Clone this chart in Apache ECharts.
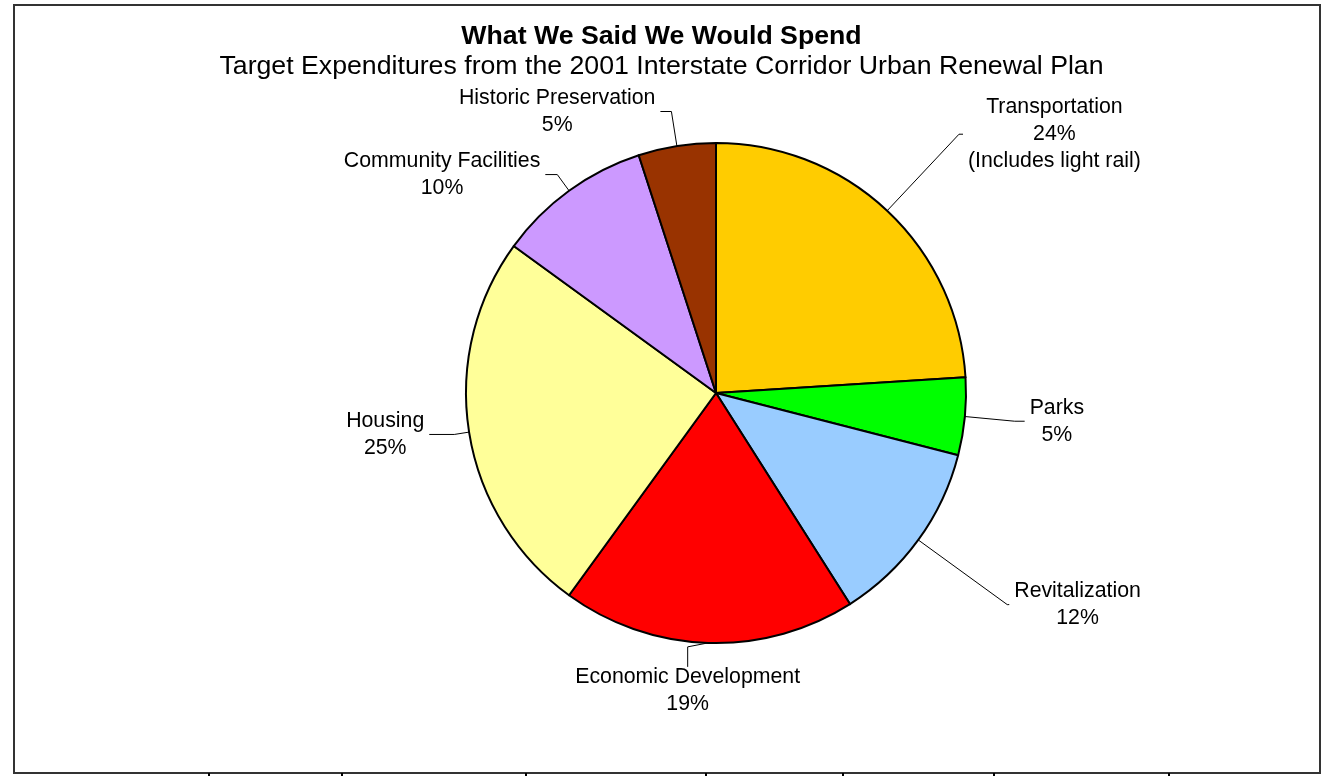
<!DOCTYPE html>
<html>
<head>
<meta charset="utf-8">
<script src="https://cdn.jsdelivr.net/npm/echarts@6/dist/echarts.min.js"></script>
<style>
html,body{margin:0;padding:0;background:#fff;}
#chart{width:1323px;height:776px;}
</style>
</head>
<body>
<div id="chart"></div>
<script>
// ---- data ----
const categories = ['Transportation', 'Parks', 'Revitalization', 'Economic Development', 'Housing', 'Community Facilities', 'Historic Preservation'];
const values = [24, 5, 12, 19, 25, 10, 5];
const notes = ['(Includes light rail)', '', '', '', '', '', ''];
const titleText = 'What We Said We Would Spend';
const subtitleText = 'Target Expenditures from the 2001 Interstate Corridor Urban Renewal Plan';

// ---- styles ----
const colors = ['#FFCC00', '#00FF00', '#99CCFF', '#FF0000', '#FFFF99', '#CC99FF', '#993300'];
const leaderLength = [105, 50, 110, 15, 15, 20, 35];
const leaderLength2 = [4, 10, 2, 20, 25, 12, 11];
const belowIndex = categories.indexOf('Economic Development');
const FONT = "'Liberation Sans', Arial, sans-serif";

const chart = echarts.init(document.getElementById('chart'), null, {renderer: 'canvas'});

const data = categories.map((name, i) => ({
  name: name,
  value: values[i],
  itemStyle: {color: colors[i]},
  labelLine: {length: leaderLength[i], length2: leaderLength2[i]}
}));

const tickXs = [209, 342, 526, 706, 843, 994, 1169];

chart.setOption({
  backgroundColor: '#ffffff',
  animation: false,
  title: {
    text: titleText,
    subtext: subtitleText,
    left: 'center',
    top: 22,
    padding: 0,
    itemGap: 0,
    textStyle: {fontFamily: FONT, fontSize: 26.7, fontWeight: 'bold', color: '#000', lineHeight: 30},
    subtextStyle: {fontFamily: FONT, fontSize: 26.7, fontWeight: 'normal', color: '#000', lineHeight: 30}
  },
  graphic: [
    {type: 'rect', shape: {x: 14, y: 5, width: 1306, height: 768}, style: {fill: 'none', stroke: '#333', lineWidth: 2}, silent: true, z: 0}
  ].concat(tickXs.map(x => ({
    type: 'line', shape: {x1: x, y1: 773, x2: x, y2: 776}, style: {stroke: '#000', lineWidth: 2}, silent: true
  }))),
  series: [{
    type: 'pie',
    center: [716, 393],
    radius: 250,
    startAngle: 90,
    clockwise: true,
    avoidLabelOverlap: false,
    data: data,
    itemStyle: {borderColor: '#000', borderWidth: 2},
    emphasis: {disabled: true},
    label: {
      show: true,
      position: 'outside',
      distanceToLabelLine: 5,
      formatter: function (p) {
        const i = p.dataIndex;
        let s = '{a|' + p.name + '}\n{a|' + values[i] + '%}';
        if (notes[i]) s += '\n{a|' + notes[i] + '}';
        return s;
      },
      rich: {
        a: {align: 'center', fontFamily: FONT, fontSize: 21.3, lineHeight: 27, color: '#000'}
      }
    },
    labelLine: {show: true, smooth: false, lineStyle: {color: '#000', width: 1}},
    labelLayout: function (params) {
      if (params.dataIndex === belowIndex && params.labelLinePoints) {
        const pts = params.labelLinePoints;
        const end = pts[pts.length - 1];
        return {x: end[0], y: end[1] + 6, align: 'center', verticalAlign: 'top'};
      }
      return {};
    }
  }]
});
</script>
</body>
</html>
